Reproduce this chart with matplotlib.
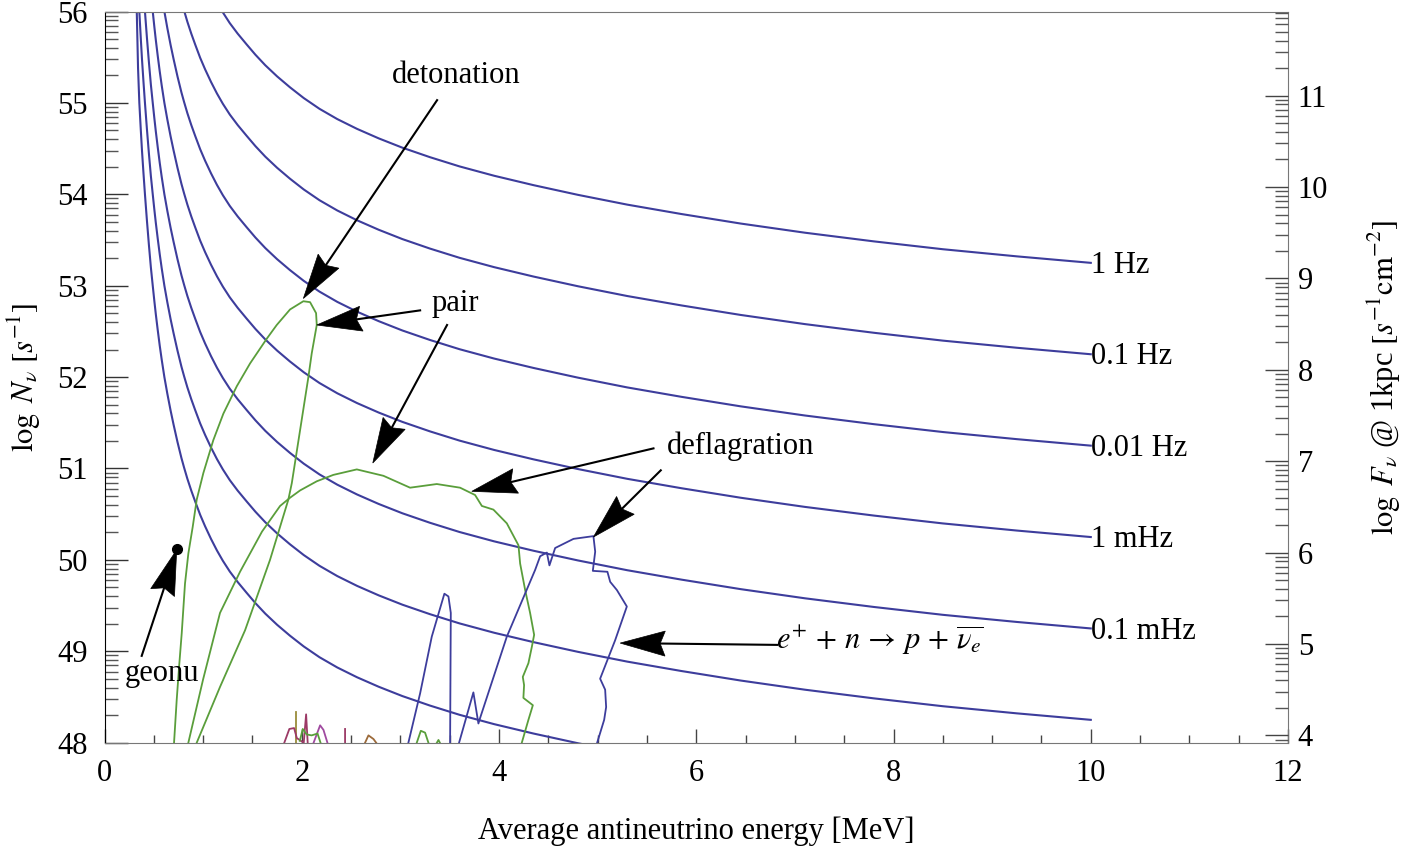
import numpy as np
import matplotlib
matplotlib.use('Agg')
import matplotlib.pyplot as plt
from matplotlib.lines import Line2D
from matplotlib.patches import Polygon
from matplotlib.transforms import IdentityTransform

plt.rcParams['font.family'] = ['Liberation Serif', 'DejaVu Serif']
plt.rcParams['mathtext.fontset'] = 'stix'
plt.rcParams['font.size'] = 22

# iso-rate curves: log N needed for 1 Hz, the others are whole decades lower
curve_energy = [0.327, 0.34, 0.353, 0.367, 0.38, 0.395, 0.41, 0.43, 0.45, 0.47,
                0.489, 0.505, 0.52, 0.54, 0.56, 0.58, 0.607, 0.637, 0.67, 0.70,
                0.74, 0.78, 0.807, 0.84, 0.88, 0.92, 0.97, 1.02, 1.08, 1.14,
                1.2, 1.27, 1.35, 1.44, 1.53, 1.63, 1.75, 1.88, 2.02, 2.18,
                2.36, 2.56, 2.78, 3.02, 3.3, 3.6, 3.95, 4.35, 4.8, 5.3,
                5.85, 6.45, 7.1, 7.8, 8.5, 9.25, 10.0]
curve_logn_1hz = [62.0, 61.38, 61.0, 60.721, 60.476, 60.231, 60.0, 59.713, 59.447, 59.2,
                  59.0, 58.835, 58.689, 58.511, 58.343, 58.19, 58.0, 57.818, 57.634, 57.481,
                  57.289, 57.114, 57.009, 56.888, 56.757, 56.637, 56.493, 56.367, 56.229, 56.103,
                  55.99, 55.873, 55.758, 55.641, 55.527, 55.412, 55.29, 55.171, 55.053, 54.935,
                  54.823, 54.716, 54.612, 54.51, 54.406, 54.305, 54.203, 54.1, 53.994, 53.887,
                  53.784, 53.68, 53.58, 53.485, 53.399, 53.321, 53.25]
rate_decades = [0, 1, 2, 3, 4, 5, 6]
rate_labels = ['1 Hz', '0.1 Hz', '0.01 Hz', '1 mHz', '0.1 mHz', '', '']

# pair neutrinos, detonation model
det_energy = [0.705, 0.732, 0.756, 0.783, 0.816, 0.850, 0.894, 0.935, 1.002, 1.103,
              1.205, 1.341, 1.476, 1.645, 1.746, 1.881, 2.016, 2.084, 2.145, 2.152,
              2.101, 2.067, 1.983, 1.899, 1.864, 1.678, 1.425, 1.171, 0.935]
det_logn = [48.0, 48.47, 48.83, 49.2, 49.74, 50.07, 50.36, 50.66, 50.95, 51.31,
            51.60, 51.90, 52.15, 52.42, 52.57, 52.74, 52.83, 52.82, 52.70, 52.57,
            52.26, 52.0, 51.42, 50.84, 50.66, 50.0, 49.23, 48.61, 48.0]

# pair neutrinos, deflagration model
defl_energy = [0.85, 0.999, 1.171, 1.374, 1.597, 1.78, 1.881, 1.983, 2.152, 2.32,
               2.558, 2.828, 3.098, 3.369, 3.605, 3.757, 3.826, 3.943, 4.079, 4.197,
               4.214, 4.265, 4.315, 4.356, 4.333, 4.298, 4.241, 4.254, 4.247, 4.343,
               4.298, 4.231]
defl_logn = [48.0, 48.69, 49.42, 49.87, 50.31, 50.59, 50.68, 50.76, 50.86, 50.93,
             50.99, 50.92, 50.79, 50.83, 50.79, 50.71, 50.59, 50.55, 50.40, 50.16,
             49.96, 49.67, 49.42, 49.18, 49.05, 48.87, 48.72, 48.63, 48.49, 48.41,
             48.25, 48.0]

# positron capture e+ n -> p anti-nu_e (nan = dips below the frame)
pc_energy = [3.081, 3.200, 3.318, 3.446, 3.487, 3.511, 3.504, np.nan,
             3.595, 3.740, 3.791, 3.808, 4.079, 4.366, 4.417, 4.485, 4.511, 4.569,
             4.755, 4.957, 4.975, 4.951, 5.099, 5.127, 5.195, 5.296, 5.177, 5.025,
             5.076, 5.086, 5.066, 4.995]
pc_logn = [48.0, 48.54, 49.16, 49.63, 49.60, 49.42, 48.0, np.nan,
           48.0, 48.55, 48.21, 48.27, 49.16, 49.89, 50.04, 50.08, 49.94, 50.13,
           50.23, 50.26, 50.09, 49.88, 49.87, 49.76, 49.67, 49.49, 49.12, 48.70,
           48.58, 48.39, 48.25, 48.0]

# small spectra poking above the floor
spikes = {
    '#9a8c3a': ([1.942, 1.942], [48.0, 48.34]),
    '#9c3a66': ([1.823, 1.874, 1.922, 1.95, 2.02, 2.044, 2.06, np.nan, 2.439, 2.439],
                [48.0, 48.15, 48.16, 48.05, 48.0, 48.31, 48.0, np.nan, 48.0, 48.15]),
    '#a04aa0': ([2.12, 2.186, 2.22, 2.26], [48.0, 48.19, 48.14, 48.0]),
    '#5a9e3b': ([1.98, 2.01, 2.05, 2.10, 2.16, 2.19, np.nan, 3.166, 3.207, 3.25, 3.284,
                 np.nan, 3.37, 3.386, 3.40],
                [48.02, 48.15, 48.09, 48.08, 48.1, 48.0, np.nan, 48.0, 48.13, 48.11, 48.0,
                 np.nan, 48.0, 48.03, 48.0]),
    '#9c6a3a': ([2.642, 2.676, 2.727, 2.754], [48.0, 48.08, 48.04, 48.0]),
}

geonu = (0.735, 50.12)
kpc_offset = 44.08

BLUE = '#3d3d9c'
GREEN = '#5a9e3b'

fig = plt.figure(figsize=(14.22, 8.52), dpi=100)
ax = fig.add_axes([0.0735, 0.1283, 0.9058 - 0.0735, 0.9865 - 0.1283])
ax.set_xlim(0, 12)
ax.set_ylim(48, 56)

for d, lab in zip(rate_decades, rate_labels):
    y = np.array(curve_logn_1hz) - d
    ax.plot(curve_energy, y, color=BLUE, lw=1.5)
    if lab:
        ax.text(curve_energy[-1], y[-1] - 0.03, lab, ha='left', va='center')

ax.plot(det_energy, det_logn, color=GREEN, lw=1.3)
ax.plot(defl_energy, defl_logn, color=GREEN, lw=1.3)
ax.plot(pc_energy, pc_logn, color=BLUE, lw=1.3)
for col, (xs, ys) in spikes.items():
    ax.plot(xs, ys, color=col, lw=1.3)

ax.plot(*geonu, 'o', color='black', ms=7)

ax.text(3.565, 55.3, 'detonation', ha='center', va='center')
ax.text(3.555, 52.81, 'pair', ha='center', va='center')
ax.text(6.446, 51.24, 'deflagration', ha='center', va='center')
ax.text(0.583, 48.76, 'geonu', ha='center', va='center')
ax.text(7.866, 49.12, r'$e^{+}\,+\,n\,\rightarrow\,p\,+\,\overline{\nu_e}$',
        ha='center', va='center')

# axes, ticks
ax.set_xticks(np.arange(0, 13, 2))
ax.set_xticks(np.arange(0, 12.01, 0.5), minor=True)
ax.set_yticks(np.arange(48, 57))
ax.set_yticks([n + np.log10(k) for n in range(48, 56) for k in range(2, 10)], minor=True)
ax.tick_params(axis='x', which='major', direction='in', length=10, width=1, pad=12,
               color='#444444', top=False)
ax.tick_params(axis='x', which='minor', direction='in', length=5.8, width=1,
               color='#444444', top=False)
ax.tick_params(axis='y', which='major', direction='in', length=16.5, width=1, pad=12,
               color='#333333', right=False)
ax.tick_params(axis='y', which='minor', direction='in', length=9.4, width=1,
               color='#555555', right=False)
for s in ['bottom', 'right', 'top']:
    ax.spines[s].set_color('#777777')
ax.spines['left'].set_color('black')

ax.set_xlabel('Average antineutrino energy [MeV]', labelpad=20)
ax.set_ylabel(r'$\log\ N_\nu\ [s^{-1}]$', labelpad=10)

ax2 = ax.twinx()
ax2.set_ylim(48 - kpc_offset, 56 - kpc_offset)
ax2.set_yticks(np.arange(4, 12))
ax2.set_yticks([n + np.log10(k) for n in range(3, 12) for k in range(2, 10)
                if 48 - kpc_offset <= n + np.log10(k) <= 56 - kpc_offset], minor=True)
ax2.tick_params(axis='y', which='major', direction='in', length=16.5, width=1, pad=7,
                color='#444444')
ax2.tick_params(axis='y', which='minor', direction='in', length=9.4, width=1,
                color='#555555')
for s in ax2.spines.values():
    s.set_visible(False)
ax2.set_ylabel(r'$\log\ F_\nu$ @ 1kpc $[s^{-1}\mathrm{cm}^{-2}]$', labelpad=27)


def arrow(start, tip, length=45, half=12.5, notch=40):
    p0 = ax.transData.transform(start)
    p1 = ax.transData.transform(tip)
    u = (p1 - p0) / np.hypot(*(p1 - p0))
    nrm = np.array([-u[1], u[0]])
    base = p1 - u * length
    nb = p1 - u * notch
    fig.add_artist(Line2D([p0[0], nb[0]], [p0[1], nb[1]], color='black', lw=1.5,
                          transform=IdentityTransform()))
    fig.add_artist(Polygon([p1, base + nrm * half, nb, base - nrm * half], closed=True,
                           facecolor='black', edgecolor='black', lw=0.5,
                           transform=IdentityTransform()))


arrow((3.372, 55.03), (2.016, 52.86))
arrow((3.2, 52.73), (2.152, 52.57))
arrow((3.473, 52.57), (2.72, 51.06))
arrow((5.566, 51.22), (3.724, 50.75))
arrow((5.64, 50.98), (4.957, 50.25))
arrow((6.82, 49.07), (5.228, 49.09))
arrow((0.377, 48.95), (0.732, 50.11))

fig.savefig('out.png', dpi=100)
